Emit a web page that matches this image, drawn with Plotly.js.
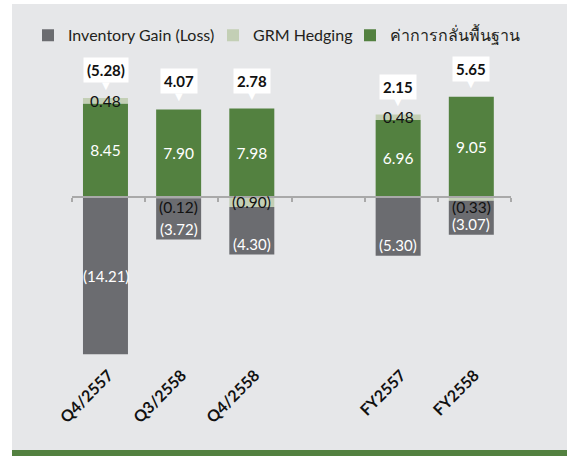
<!DOCTYPE html>
<html>
<head>
<meta charset="utf-8">
<script src="https://cdn.plot.ly/plotly-3.0.1.min.js"></script>
<style>
  html, body { margin: 0; padding: 0; background: #ffffff; }
  #plot { width: 567px; height: 456px; }
</style>
</head>
<body>
<div id="plot"></div>
<script>
// chart data
var categories = ['Q4/2557', 'Q3/2558', 'Q4/2558', ' ', 'FY2557', 'FY2558'];
var baseRefining = [8.45, 7.90, 7.98, null, 6.96, 9.05];
var grmHedging = [0.48, -0.12, -0.90, null, 0.48, -0.33];
var inventoryGain = [-14.21, -3.72, -4.30, null, -5.30, -3.07];
var totalGrm = [-5.28, 4.07, 2.78, null, 2.15, 5.65];
var seriesNames = ['Inventory Gain (Loss)', 'GRM Hedging', 'ค่าการกลั่นพื้นฐาน'];

var W = 567, H = 456;
var mar = {l: 72, r: 56, t: 84, b: 94};
var plotW = W - mar.l - mar.r, plotH = H - mar.t - mar.b;
var yMin = -14.9, yMax = 10.2;
var FONT = 'Lato, Noto Sans, sans-serif';

function fmt(v) {
  return v < 0 ? '(' + Math.abs(v).toFixed(2) + ')' : v.toFixed(2);
}

var barStyle = {width: 0.615, offset: -0.35, hoverinfo: 'skip', type: 'bar'};

var trBase = Object.assign({
  x: categories, y: baseRefining, name: seriesNames[2], legend: 'legend3',
  marker: {color: '#538140'},
  text: baseRefining.map(function(v) { return v == null ? '' : fmt(v); }),
  textposition: 'inside', insidetextanchor: 'middle',
  textfont: {color: '#ffffff', size: 15.5, family: FONT}
}, barStyle);
var trHedge = Object.assign({
  x: categories, y: grmHedging, name: seriesNames[1], legend: 'legend2',
  marker: {color: '#c3cfb5'}, textposition: 'none'
}, barStyle);
var trInv = Object.assign({
  x: categories, y: inventoryGain, name: seriesNames[0], legend: 'legend',
  marker: {color: '#6b6c70'}, textposition: 'none'
}, barStyle);
// carrier for the zero axis line
var trAxis = {
  x: [-0.5, 5.5], y: [0, 0], xaxis: 'x2', yaxis: 'y', mode: 'lines',
  line: {width: 0}, showlegend: false, hoverinfo: 'skip'
};

var ann = [];
categories.forEach(function(c, i) {
  if (baseRefining[i] == null) return;
  var h = grmHedging[i], inv = inventoryGain[i];
  var posTop = baseRefining[i] + Math.max(h, 0);
  var negTop = Math.min(h, 0);
  // total callout: box + pointer
  ann.push({
    x: c, y: posTop, yshift: 28, xshift: -3, text: '<b>' + fmt(totalGrm[i]) + '</b>',
    showarrow: false, bgcolor: '#ffffff', borderpad: 3,
    font: {size: 15, color: '#111111', family: FONT}
  });
  ann.push({
    x: c, y: posTop, yshift: 13, xshift: -3, text: '▼', showarrow: false,
    font: {size: 10, color: '#ffffff', family: 'DejaVu Sans'}
  });
  // hedging label
  var small = h < 0 && Math.abs(h) < 0.5;
  var hy = h >= 0 ? baseRefining[i] + h / 2 : (small ? 0 : h / 2);
  ann.push({
    x: c, y: hy, yshift: small ? -10 : 0, xshift: -3,
    text: fmt(h), showarrow: false,
    font: {size: 15.5, color: '#111111', family: FONT}
  });
  // inventory label
  var tall = Math.abs(inv) > 8;
  ann.push({
    x: c, y: tall ? negTop + inv / 2 : negTop + inv, yshift: tall ? 0 : 10.5, xshift: -3,
    text: fmt(inv), showarrow: false,
    font: {size: 15, color: '#ffffff', family: FONT}
  });
});

function px2paperX(p) { return (p - mar.l) / plotW; }
function px2paperY(p) { return (H - p - mar.b) / plotH; }

function legendAt(px) {
  return {
    orientation: 'h', xref: 'container', yref: 'container',
    x: px / W, y: 0.96, xanchor: 'left', yanchor: 'top',
    font: {size: 16, color: '#231f20', family: FONT},
    bgcolor: 'rgba(0,0,0,0)'
  };
}

var layout = {
  width: W, height: H,
  margin: mar,
  paper_bgcolor: '#ffffff',
  plot_bgcolor: 'rgba(0,0,0,0)',
  barmode: 'relative',
  font: {family: FONT, color: '#111111'},
  showlegend: true,
  legend: legendAt(28),
  legend2: legendAt(213),
  legend3: legendAt(350),
  xaxis: {
    type: 'category', categoryorder: 'array', categoryarray: categories,
    showline: false, ticks: '', showgrid: false, zeroline: false,
    tickangle: -45,
    tickfont: {size: 16, color: '#111111', family: FONT, weight: 'bold'}
  },
  xaxis2: {
    overlaying: 'x', anchor: 'free', position: (0 - yMin) / (yMax - yMin),
    range: [-0.5, 5.5], side: 'bottom',
    showline: true, linecolor: '#a9a9a9', linewidth: 2,
    tickmode: 'array', tickvals: [-0.5, 0.5, 1.5, 2.5, 3.5, 4.5, 5.5],
    ticks: 'outside', ticklen: 4, tickwidth: 2, tickcolor: '#a9a9a9',
    showticklabels: false, showgrid: false, zeroline: false
  },
  yaxis: {
    range: [yMin, yMax], showticklabels: false, showgrid: false,
    zeroline: false, showline: false, ticks: ''
  },
  annotations: ann,
  shapes: [
    {type: 'rect', xref: 'paper', yref: 'paper', layer: 'below',
     x0: px2paperX(12), x1: px2paperX(W), y0: px2paperY(450), y1: px2paperY(4),
     fillcolor: '#e6e7e9', line: {width: 0}},
    {type: 'rect', xref: 'paper', yref: 'paper', layer: 'below',
     x0: px2paperX(12), x1: px2paperX(W), y0: px2paperY(H), y1: px2paperY(450),
     fillcolor: '#538140', line: {width: 0}}
  ]
};

Plotly.newPlot('plot', [trBase, trHedge, trInv, trAxis], layout, {displayModeBar: false, staticPlot: true});
</script>
</body>
</html>
